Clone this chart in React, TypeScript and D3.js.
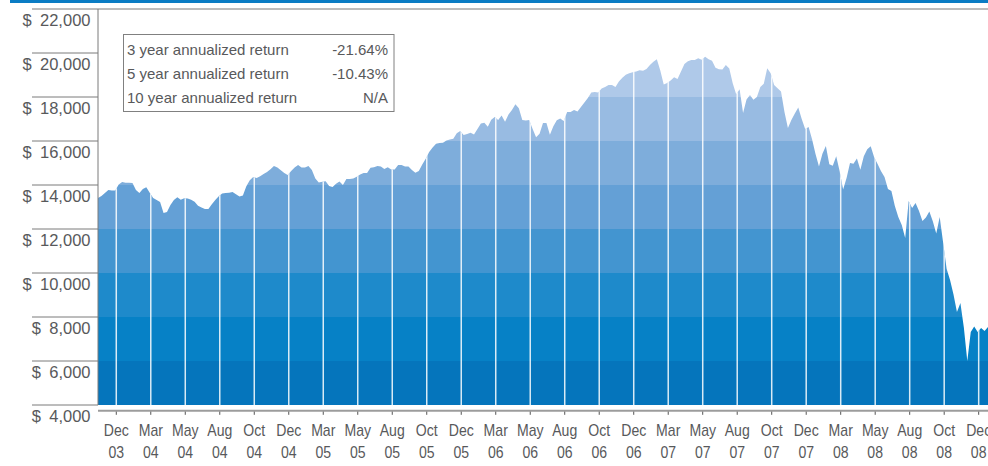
import React from 'react';
import * as d3 from 'd3';

// Weekly portfolio value (USD), late Nov 2003 – Dec 2008
const values: number[] = [
  13410, 13500, 13640, 13770, 13750, 13750, 14020, 14140, 14100, 14100,
  14090, 13770, 13640, 13820, 13900, 13650, 13410, 13320, 13230, 12730,
  12770, 13090, 13320, 13440, 13330, 13400, 13390, 13330, 13240, 13060,
  12980, 12910, 12910, 13120, 13320, 13490, 13610, 13640, 13650, 13680,
  13580, 13480, 13520, 13940, 14220, 14360, 14320, 14400, 14500, 14590,
  14720, 14860, 14800, 14670, 14550, 14460, 14640, 14800, 14910, 14790,
  14800, 14860, 14680, 14300, 14110, 14150, 14170, 13950, 13910, 14060,
  14160, 14000, 14270, 14270, 14300, 14370, 14480, 14550, 14550, 14780,
  14810, 14860, 14840, 14730, 14810, 14700, 14710, 14910, 14910, 14840,
  14840, 14680, 14560, 14640, 14930, 15190, 15500, 15710, 15870, 15910,
  15920, 16020, 16070, 16100, 16350, 16450, 16270, 16320, 16380, 16300,
  16540, 16790, 16830, 16650, 16970, 17090, 16960, 17160, 16880, 17210,
  17410, 17670, 17490, 16960, 16930, 16950, 16550, 16170, 16330, 16820,
  16820, 16280, 16670, 16940, 17020, 16910, 17320, 17320, 17410, 17340,
  17550, 17750, 17960, 18200, 18230, 18200, 18390, 18450, 18550, 18550,
  18450, 18700, 18880, 19010, 19080, 19120, 19160, 19220, 19190, 19270,
  19450, 19600, 19720, 19200, 18570, 18640, 18750, 18900, 18820, 19160,
  19500, 19620, 19680, 19680, 19760, 19690, 19830, 19720, 19650, 19330,
  19260, 19250, 19460, 19300, 18630, 18130, 18350, 17270, 17890, 18090,
  17880, 18000, 18450, 18600, 19310, 19080, 18540, 18400, 18250, 17320,
  16590, 16950, 17250, 17520, 17000, 16550, 16640, 16080, 15410, 14840,
  15420, 15770, 14940, 14880, 15310, 14620, 13800, 14320, 15000, 14970,
  15210, 14690, 15310, 15630, 15760, 15260, 14960, 14620, 14360, 13820,
  13730, 13050, 12550, 12180, 11590, 13270, 12950, 13180, 12820, 12360,
  12520, 12800, 12350, 11800, 12550, 11380, 10190, 9680, 9020, 8230,
  8640, 7520, 6000, 7320, 7570, 7320, 7500, 7360, 7550,
];

const tickMonths = [
  'Dec', 'Mar', 'May', 'Aug', 'Oct',
  'Dec', 'Mar', 'May', 'Aug', 'Oct',
  'Dec', 'Mar', 'May', 'Aug', 'Oct',
  'Dec', 'Mar', 'May', 'Aug', 'Oct',
  'Dec', 'Mar', 'May', 'Aug', 'Oct',
  'Dec',
];
const tickYears = [
  '03', '04', '04', '04', '04',
  '04', '05', '05', '05', '05',
  '05', '06', '06', '06', '06',
  '06', '07', '07', '07', '07',
  '07', '08', '08', '08', '08',
  '08',
];
// index of the first tick in the weekly series, and weeks between ticks
const firstTickIndex = 5.3;
const tickStep = 10;

const yTicks = [4000, 6000, 8000, 10000, 12000, 14000, 16000, 18000, 20000, 22000];
const bandColors = [
  '#0575bc', '#0681c6', '#1e8acb', '#4395d0', '#64a0d6',
  '#7eaddb', '#98bbe2', '#afc9e9', '#c4d7ef',
];

const legendLabels = ['3 year annualized return', '5 year annualized return', '10 year annualized return'];
const legendValues = ['-21.64%', '-10.43%', 'N/A'];

const W = 988;
const H = 466;
const FONT = '"Liberation Sans", Arial, sans-serif';
const TEXT = '#58595b';

export default function App() {
  const x = d3.scaleLinear().domain([0, values.length - 1]).range([98, 988]);
  const y = d3.scaleLinear().domain([4000, 22000]).range([405, 9]);
  const fmt = (v: number) => '$\u2002' + d3.format(',')(v);

  const area = d3
    .area<number>()
    .x((_, i) => x(i))
    .y0(y(4000))
    .y1((d) => y(d))
    .curve(d3.curveLinear);
  const areaPath = area(values) || '';

  const tickPos = tickMonths.map((_, k) => x(firstTickIndex + k * tickStep));
  const axisY = 410.8;

  return (
    <svg
      width={W}
      height={H}
      viewBox={`0 0 ${W} ${H}`}
      style={{ position: 'absolute', left: 0, top: 0, background: '#fff' }}
    >
      <defs>
        <clipPath id="areaClip">
          <path d={areaPath} />
        </clipPath>
      </defs>

      {/* top brand bar */}
      <rect x={10} y={0} width={978} height={3} fill="#0a7cc4" />

      {/* banded area */}
      <g clipPath="url(#areaClip)">
        {bandColors.map((c, k) => {
          const lo = yTicks[k];
          const hi = yTicks[k + 1];
          return (
            <rect
              key={k}
              x={x(0)}
              y={y(hi)}
              width={x(values.length - 1) - x(0)}
              height={y(lo) - y(hi)}
              fill={c}
            />
          );
        })}
        {tickPos.map((px, k) => (
          <line
            key={k}
            x1={px}
            x2={px}
            y1={y(4000)}
            y2={y(22000)}
            stroke="#ffffff"
            strokeOpacity={0.85}
            strokeWidth={1.5}
          />
        ))}
      </g>

      {/* y tick lines + labels */}
      {yTicks.map((v, k) => (
        <g key={v}>
          <line
            x1={32}
            x2={k === yTicks.length - 1 ? 988 : 98}
            y1={y(v)}
            y2={y(v)}
            stroke="#7a7a7a"
            strokeWidth={1}
          />
          <text
            x={90.5}
            y={y(v) + 16.5}
            textAnchor="end"
            fontFamily={FONT}
            fontSize={16.5}
            fill={TEXT}
          >
            {fmt(v)}
          </text>
        </g>
      ))}

      {/* y axis line */}
      <line x1={98} x2={98} y1={y(22000)} y2={y(4000)} stroke="#7a7a7a" strokeWidth={1} />

      {/* x axis */}
      <line x1={98} x2={988} y1={axisY} y2={axisY} stroke="#9c9c9c" strokeWidth={2} />
      {tickPos.map((px, k) => (
        <g key={k}>
          <line x1={px} x2={px} y1={axisY + 0.8} y2={axisY + 4} stroke="#555" strokeWidth={1} />
          <g transform={`translate(${px},0) scale(0.88,1)`}>
            <text x={0} y={436.5} textAnchor="middle" fontFamily={FONT} fontSize={16} fill={TEXT}>
              {tickMonths[k]}
            </text>
            <text x={0} y={458.5} textAnchor="middle" fontFamily={FONT} fontSize={16} fill={TEXT}>
              {tickYears[k]}
            </text>
          </g>
        </g>
      ))}

      {/* legend box */}
      <rect x={123.5} y={34.5} width={270.5} height={77} fill="#fff" stroke="#808080" strokeWidth={1} />
      {legendLabels.map((t, k) => (
        <g key={t}>
          <text x={127} y={54.5 + k * 24} fontFamily={FONT} fontSize={15} fill={TEXT}>
            {t}
          </text>
          <text x={388} y={54.5 + k * 24} textAnchor="end" fontFamily={FONT} fontSize={15} fill={TEXT}>
            {legendValues[k]}
          </text>
        </g>
      ))}
    </svg>
  );
}
